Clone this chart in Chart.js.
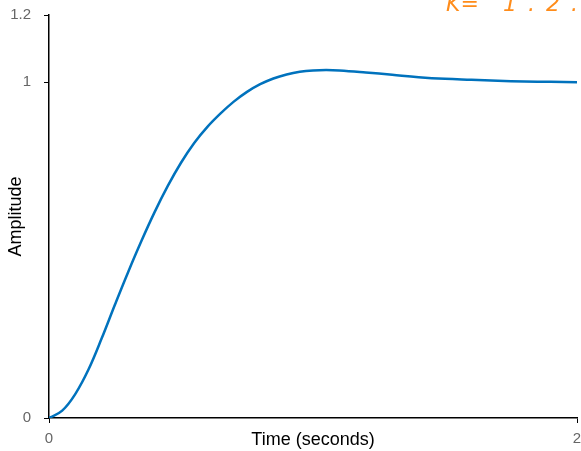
<!DOCTYPE html>
<html>
<head>
<meta charset="utf-8">
<script src="https://cdn.jsdelivr.net/npm/chart.js@4.4.1/dist/chart.umd.min.js"></script>
<style>
  html, body { margin: 0; padding: 0; background: #fff; }
  #wrap { width: 581px; height: 451px; }
</style>
</head>
<body>
<div id="wrap"><canvas id="stepChart" width="581" height="451"></canvas></div>
<script>
// ===== DATA =====
var timeValues = [0, 0.05, 0.1, 0.15, 0.2, 0.25, 0.3, 0.35, 0.4, 0.45, 0.5, 0.55, 0.6, 0.65, 0.7,
                  0.75, 0.8, 0.85, 0.9, 0.95, 1.0, 1.05, 1.1, 1.2, 1.3, 1.4, 1.5, 1.6, 1.7, 1.8, 1.9, 2.0];
var amplitude = [0, 0.022, 0.072, 0.145, 0.238, 0.338, 0.435, 0.527, 0.613, 0.691, 0.760, 0.819, 0.867, 0.907, 0.942,
                 0.971, 0.994, 1.011, 1.023, 1.031, 1.035, 1.036, 1.035, 1.029, 1.022, 1.015, 1.010, 1.007, 1.004, 1.002, 1.001, 1.0];
var xTicks = [0, 2];
var yTicks = [0, 1, 1.2];
var noteLeft = 'K=';
var noteRight = '1.2.';

document.addEventListener('DOMContentLoaded', function () {

    var points = timeValues.map(function (t, i) { return { x: t, y: amplitude[i] }; });

    // handwritten note at the top right (cut by the top edge)
    var notePlugin = {
        id: 'note',
        afterDraw: function (chart) {
            var ctx = chart.ctx;
            ctx.save();
            ctx.fillStyle = '#ff8c1a';
            ctx.font = 'italic 22px "DejaVu Sans"';
            ctx.textBaseline = 'alphabetic';
            ctx.fillText(noteLeft, 446, 11);
            ctx.letterSpacing = '11px';
            ctx.fillText(noteRight, 503, 11);
            ctx.restore();
        }
    };

    var ctx = document.getElementById('stepChart').getContext('2d');
    new Chart(ctx, {
        type: 'line',
        data: {
            datasets: [{
                data: points,
                borderColor: '#0072BD',
                borderWidth: 2.5,
                pointRadius: 0,
                fill: false,
                tension: 0.4
            }]
        },
        options: {
            responsive: false,
            animation: false,
            layout: { padding: { top: 15, right: 4, left: 0, bottom: 0 } },
            plugins: { legend: { display: false }, tooltip: { enabled: false } },
            scales: {
                x: {
                    type: 'linear',
                    min: 0, max: 2,
                    afterBuildTicks: function (scale) {
                        scale.ticks = xTicks.map(function (v) { return { value: v }; });
                    },
                    afterFit: function (scale) {
                        scale.height = 33;
                        scale.paddingLeft = 0;
                        scale.paddingRight = 0;
                    },
                    ticks: { color: '#666', font: { family: 'Liberation Sans', size: 15 }, padding: 7, maxRotation: 0 },
                    grid: { display: true, drawOnChartArea: false, drawTicks: true, tickLength: 5, color: '#000' },
                    border: { display: true, color: '#000', width: 1.5 },
                    title: {
                        display: true, text: 'Time (seconds)', color: '#000',
                        font: { family: 'Liberation Sans', size: 18 }, padding: { top: 0, bottom: 0 }
                    }
                },
                y: {
                    min: 0, max: 1.2,
                    afterBuildTicks: function (scale) {
                        scale.ticks = yTicks.map(function (v) { return { value: v }; });
                    },
                    afterFit: function (scale) {
                        scale.width = 49;
                        scale.paddingTop = 0;
                        scale.paddingBottom = 0;
                    },
                    ticks: { color: '#666', font: { family: 'Liberation Sans', size: 15 }, padding: 13 },
                    grid: { display: true, drawOnChartArea: false, drawTicks: true, tickLength: 5, color: '#000' },
                    border: { display: true, color: '#000', width: 1.5 },
                    title: {
                        display: true, text: 'Amplitude', color: '#000',
                        font: { family: 'Liberation Sans', size: 18 }, padding: { top: 5, bottom: 0 }
                    }
                }
            }
        },
        plugins: [notePlugin]
    });

});
</script>
</body>
</html>
